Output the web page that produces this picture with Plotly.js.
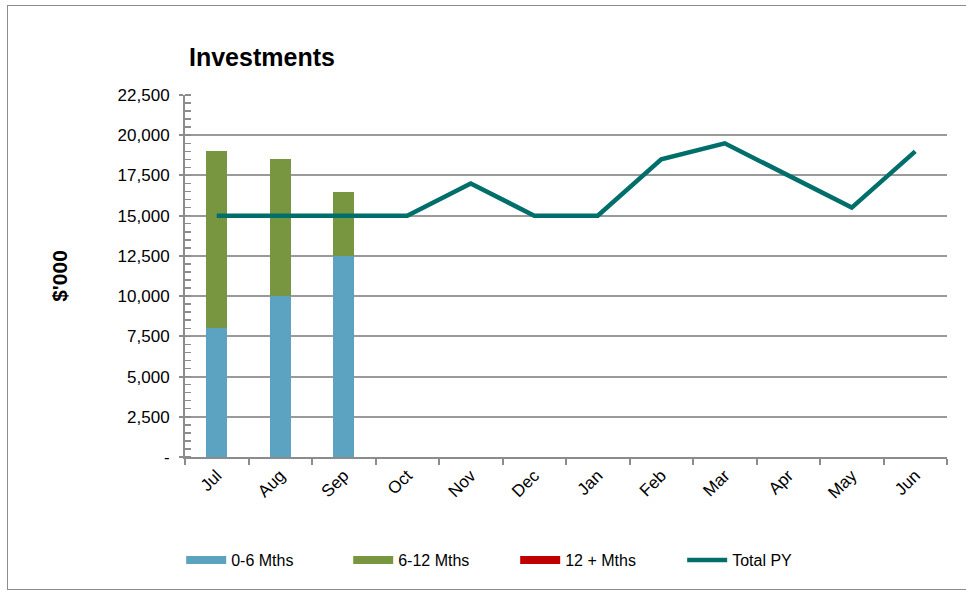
<!DOCTYPE html>
<html>
<head>
<meta charset="utf-8">
<script src="https://cdn.plot.ly/plotly-3.0.1.min.js"></script>
<style>
html,body{margin:0;padding:0;background:#fff;}
#wrap{position:relative;width:966px;height:594px;}
#chart{width:966px;height:594px;}
#frame{position:absolute;left:7px;top:5px;width:962px;height:585px;border:1.5px solid #8c8c8c;box-sizing:border-box;pointer-events:none;}
</style>
</head>
<body>
<div id="wrap"><div id="chart"></div><div id="frame"></div></div>
<script>
const months = ["Jul","Aug","Sep","Oct","Nov","Dec","Jan","Feb","Mar","Apr","May","Jun"];
const m0to6 = [8000, 10000, 12500, null, null, null, null, null, null, null, null, null];
const m6to12 = [11000, 8500, 4000, null, null, null, null, null, null, null, null, null];
const m12plus = [0, 0, 0, null, null, null, null, null, null, null, null, null];
const totalPY = [15000, 15000, 15000, 15000, 17000, 15000, 15000, 18500, 19500, 17500, 15500, 19000];
const yTickVals = [0, 2500, 5000, 7500, 10000, 12500, 15000, 17500, 20000, 22500];
const yTickText = ["-", "2,500", "5,000", "7,500", "10,000", "12,500", "15,000", "17,500", "20,000", "22,500"];

const cBlue = "#5BA3C1", cGreen = "#77963F", cRed = "#C00000", cTeal = "#006E6A";
const font = "Liberation Sans, Arial, sans-serif";

const traces = [
  {type:"bar", x:months, y:m0to6, marker:{color:cBlue}, showlegend:false, hoverinfo:"y"},
  {type:"bar", x:months, y:m6to12, marker:{color:cGreen}, showlegend:false, hoverinfo:"y"},
  {type:"bar", x:months, y:m12plus, marker:{color:cRed}, showlegend:false, hoverinfo:"y"},
  {type:"scatter", mode:"lines", x:[null], y:[null], name:"0-6 Mths", line:{color:cBlue, width:8}},
  {type:"scatter", mode:"lines", x:[null], y:[null], name:"6-12 Mths", line:{color:cGreen, width:8}},
  {type:"scatter", mode:"lines", x:[null], y:[null], name:"12 + Mths", line:{color:cRed, width:8}},
  {type:"scatter", mode:"lines", x:months, y:totalPY, name:"Total PY", line:{color:cTeal, width:4.5}}
];

const layout = {
  width:966, height:594,
  margin:{l:185, r:19, t:95, b:137},
  paper_bgcolor:"#fff", plot_bgcolor:"#fff",
  barmode:"stack", bargap:0.67,
  title:{text:"<b>Investments</b>", x:189/966, xanchor:"left", y:1-57/594, yanchor:"middle",
         font:{family:font, size:25, color:"#000"}},
  xaxis:{
    type:"category", categoryorder:"array", categoryarray:months,
    range:[-0.5, 11.5],
    tickangle:-45, tickfont:{family:font, size:17, color:"#000"},
    ticks:"outside", tickson:"boundaries", ticklen:6, tickcolor:"#8c8c8c", tickwidth:2,
    showline:true, linecolor:"#8c8c8c", linewidth:2, showgrid:false, zeroline:false
  },
  yaxis:{
    range:[0, 22500], tickvals:yTickVals, ticktext:yTickText,
    tickfont:{family:font, size:17, color:"#000"},
    ticks:"outside", ticklen:4, tickcolor:"#8c8c8c", tickwidth:2, ticklabelstandoff:6,
    showline:true, linecolor:"#8c8c8c", linewidth:2,
    showgrid:true, gridcolor:"#9a9a9a", gridwidth:2, zeroline:false,
    minor:{dtick:500, ticks:"inside", ticklen:6, tickcolor:"#8c8c8c", tickwidth:1.5, showgrid:false},
    title:{text:"<b>$'000</b>", font:{family:font, size:21, color:"#000"}, standoff:44}
  },
  legend:{orientation:"h", x:-0.005, xanchor:"left", y:-0.285, yanchor:"middle",
          font:{family:font, size:16, color:"#000"}, itemwidth:40, entrywidth:112, entrywidthmode:"pixels",
          tracegroupgap:0, traceorder:"normal"},
  showlegend:true
};

Plotly.newPlot("chart", traces, layout, {displayModeBar:false, staticPlot:true});
</script>
</body>
</html>
